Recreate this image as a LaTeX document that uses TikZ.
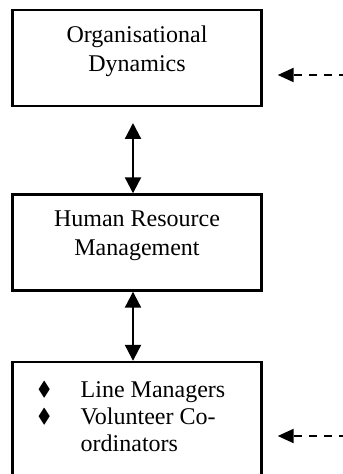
\documentclass[tikz,border=0pt]{standalone}
\usepackage{fontspec}
\usepackage{amssymb}
\setmainfont{Liberation Serif}
\usetikzlibrary{arrows.meta}
\tikzset{
  box/.style={draw, line width=1.2pt, minimum width=124.5pt, minimum height=48pt, inner sep=0pt},
  txt/.style={inner sep=0pt, font=\fontsize{12}{14.5}\selectfont, align=center},
  link/.style={line width=1.1pt, {Triangle[length=8pt,width=8pt]}-{Triangle[length=8pt,width=8pt]}},
  feed/.style={line width=1.1pt, dash pattern=on 4pt off 3.5pt, -{Triangle[length=8pt,width=7pt]}}
}
\newcommand{\dia}{\makebox[21.5pt][l]{\raisebox{1pt}{\fontsize{10}{12}\selectfont$\blacklozenge$}}}
\begin{document}
\begin{tikzpicture}[x=0.5pt,y=-0.5pt]
\useasboundingbox (0,0) rectangle (342,474);
\node[box] (od) at (137,57.75){};
\node[box] (hrm) at (137,242.5){};
\node[box, minimum height=70pt] (lm) at (137,432){};
\node[txt, anchor=north] (odtxt) at ([yshift=-8.5pt]od.north){Organisational\\Dynamics};
\node[txt, anchor=north] (hrmtxt) at ([yshift=-8.5pt]hrm.north){Human Resource\\Management};
\node[txt, anchor=north west, align=left, font=\fontsize{12}{13.5}\selectfont] (lmtxt) at ([xshift=13pt,yshift=-10pt]lm.north west){\dia Line Managers\\\dia Volunteer Co-\\\hspace*{21.5pt}ordinators};
\coordinate (top) at (133,123);
\draw[link] (top) -- (top |- hrm.north);
\draw[link] (hrm.south -| top) -- (top |- lm.north);
\coordinate (odin) at (347,75);
\coordinate (lmin) at (347,436);
\draw[feed, shorten >=7.5pt] (odin) -- (odin -| od.east);
\draw[feed, shorten >=7.5pt] (lmin) -- (lmin -| lm.east);
\end{tikzpicture}
\end{document}
